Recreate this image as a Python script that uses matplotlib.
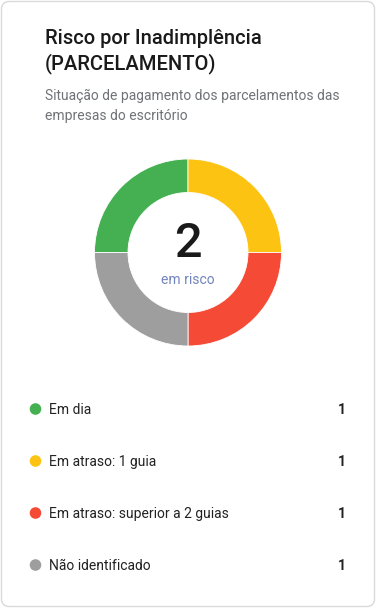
import matplotlib
matplotlib.use("Agg")
import matplotlib.pyplot as plt
from matplotlib.patches import FancyBboxPatch, Circle

plt.rcParams['font.family'] = ['Roboto', 'DejaVu Sans']

title_lines = ["Risco por Inadimplência", "(PARCELAMENTO)"]
subtitle_lines = ["Situação de pagamento dos parcelamentos das", "empresas do escritório"]
categories = ["Em dia", "Em atraso: 1 guia", "Em atraso: superior a 2 guias", "Não identificado"]
values = [1, 1, 1, 1]
colors = ["#45B052", "#FDC313", "#F54B36", "#9E9E9E"]
center_value = "2"
center_label = "em risco"

W, H = 376, 608
fig = plt.figure(figsize=(W / 100, H / 100), dpi=100)
fig.patch.set_facecolor("white")

ax = fig.add_axes([0, 0, 1, 1])
ax.set_xlim(0, W)
ax.set_ylim(H, 0)
ax.axis("off")

card = FancyBboxPatch((1.5, 1.5), W - 3, H - 3, boxstyle="round,pad=0,rounding_size=8",
                      facecolor="white", edgecolor="#DADADA", linewidth=1.0)
ax.add_patch(card)

# Title
for i, line in enumerate(title_lines):
    ax.text(45, 44.5 + i * 24.5, line, fontsize=14.5, fontweight="medium",
            color="#1A1A1A", ha="left", va="baseline")
for i, line in enumerate(subtitle_lines):
    ax.text(45, 100 + i * 20, line, fontsize=10, color="#6F7277",
            ha="left", va="baseline")

# Donut
cx, cy, R, r_in = 188, 252.5, 93.5, 60
pax = fig.add_axes([(cx - R) / W, (H - cy - R) / H, 2 * R / W, 2 * R / H])
pax.pie(values, colors=colors, startangle=180, counterclock=False, radius=1,
        wedgeprops=dict(width=(R - r_in) / R, edgecolor="white", linewidth=0.6))
pax.set_xlim(-1, 1)
pax.set_ylim(-1, 1)
pax.axis("off")

ax.text(cx, 257, center_value, fontsize=35, fontweight="medium", color="#1A1A1A",
        ha="center", va="baseline", zorder=5)
ax.text(cx, 284, center_label, fontsize=10, color="#7285BC",
        ha="center", va="baseline", zorder=5)

# Legend list
for i, (cat, val, col) in enumerate(zip(categories, values, colors)):
    y = 409 + i * 52
    ax.add_patch(Circle((35.5, y), 5.8, facecolor=col, edgecolor="none"))
    ax.text(49, y + 5, cat, fontsize=10, color="#222222", ha="left", va="baseline")
    ax.text(345.5, y + 5, str(val), fontsize=10, fontweight="bold", color="#222222",
            ha="right", va="baseline")

fig.savefig("out.png", dpi=100, facecolor="white")
